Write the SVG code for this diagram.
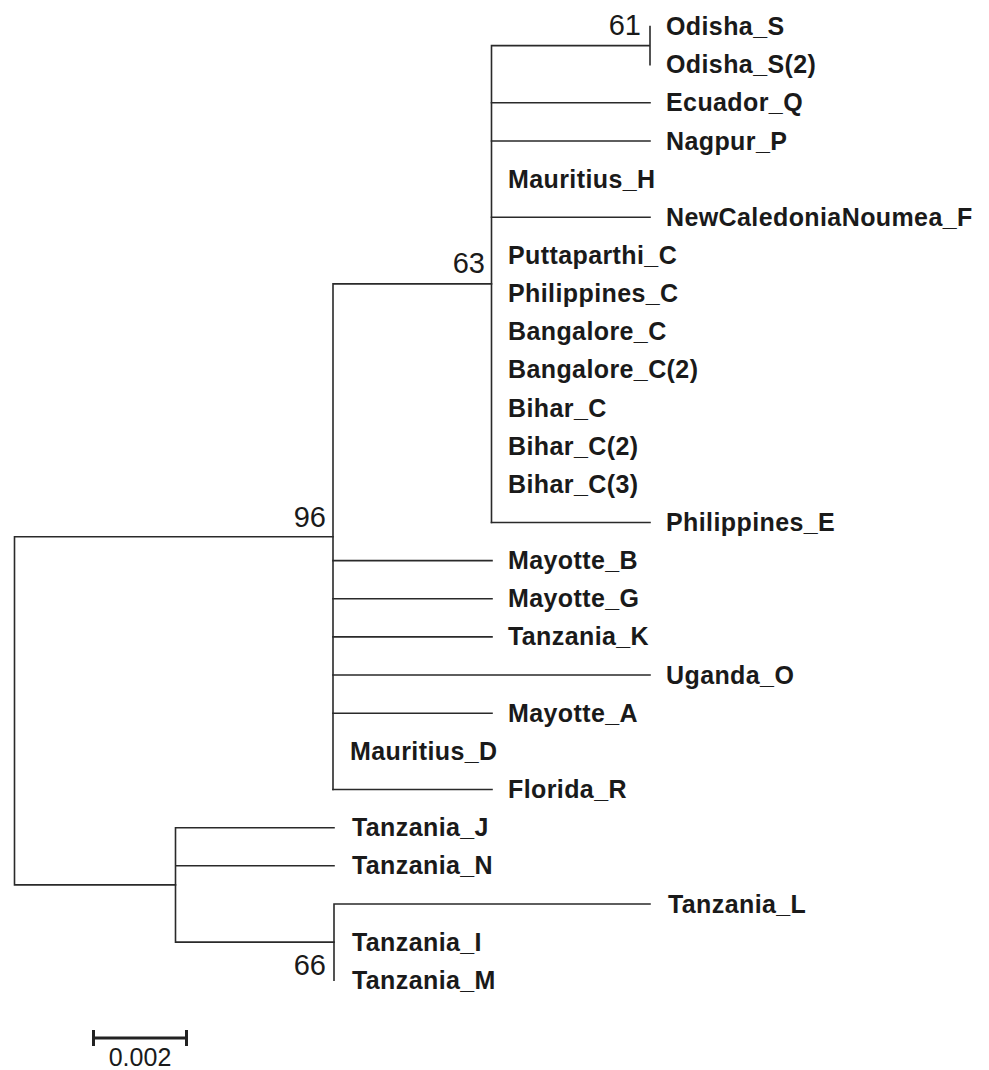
<svg xmlns="http://www.w3.org/2000/svg" width="989" height="1070" viewBox="0 0 989 1070">
<style>
.e{stroke:#2a2a2a;stroke-width:1.6;fill:none;stroke-linecap:square}
.l{font-family:"Liberation Sans",Arial,sans-serif;font-weight:bold;font-size:25px;fill:#1a1a1a;letter-spacing:0.4px}
.b{font-family:"Liberation Sans",Arial,sans-serif;font-size:29px;fill:#1a1a1a;text-anchor:end}
.s{font-family:"Liberation Sans",Arial,sans-serif;font-size:25px;fill:#1a1a1a;text-anchor:middle}
</style>
<rect width="989" height="1070" fill="#fff"/>
<g id="connectors">
<path class="e" d="M14.5,536.7V884.9M14.5,536.7H333M14.5,884.9H175.5"/>
<path class="e" d="M333,283.9V789.5M333,283.9H491.5"/>
<path class="e" d="M491.5,45.6V522.5M491.5,45.6H650M650,26.5V64.7"/>
<path class="e" d="M491.5,102.8H650M491.5,141H650M491.5,217.3H650M491.5,522.5H650"/>
<path class="e" d="M333,560.6H492M333,598.7H492M333,636.9H492M333,675H650M333,713.2H492M333,789.5H492"/>
<path class="e" d="M175.5,827.7V942.1M175.5,827.7H334M175.5,865.8H334M175.5,942.1H334"/>
<path class="e" d="M334,904V980.3M334,904H650"/>
</g>
<g id="n_Odisha_S"><text class="l" x="666" y="35">Odisha_S</text></g>
<g id="n_Odisha_S2"><text class="l" x="666" y="73.2">Odisha_S(2)</text></g>
<g id="n_Ecuador_Q"><text class="l" x="666" y="111.3">Ecuador_Q</text></g>
<g id="n_Nagpur_P"><text class="l" x="666" y="149.5">Nagpur_P</text></g>
<g id="n_Mauritius_H"><text class="l" x="508" y="187.6">Mauritius_H</text></g>
<g id="n_NewCaledoniaNoumea_F"><text class="l" x="666" y="225.8">NewCaledoniaNoumea_F</text></g>
<g id="n_Puttaparthi_C"><text class="l" x="508" y="263.9">Puttaparthi_C</text></g>
<g id="n_Philippines_C"><text class="l" x="508" y="302.1">Philippines_C</text></g>
<g id="n_Bangalore_C"><text class="l" x="508" y="340.2">Bangalore_C</text></g>
<g id="n_Bangalore_C2"><text class="l" x="508" y="378.4">Bangalore_C(2)</text></g>
<g id="n_Bihar_C"><text class="l" x="508" y="416.5">Bihar_C</text></g>
<g id="n_Bihar_C2"><text class="l" x="508" y="454.7">Bihar_C(2)</text></g>
<g id="n_Bihar_C3"><text class="l" x="508" y="492.8">Bihar_C(3)</text></g>
<g id="n_Philippines_E"><text class="l" x="666" y="531">Philippines_E</text></g>
<g id="n_Mayotte_B"><text class="l" x="508" y="569.1">Mayotte_B</text></g>
<g id="n_Mayotte_G"><text class="l" x="508" y="607.3">Mayotte_G</text></g>
<g id="n_Tanzania_K"><text class="l" x="508" y="645.4">Tanzania_K</text></g>
<g id="n_Uganda_O"><text class="l" x="666" y="683.6">Uganda_O</text></g>
<g id="n_Mayotte_A"><text class="l" x="508" y="721.7">Mayotte_A</text></g>
<g id="n_Mauritius_D"><text class="l" x="350" y="759.9">Mauritius_D</text></g>
<g id="n_Florida_R"><text class="l" x="508" y="798">Florida_R</text></g>
<g id="n_Tanzania_J"><text class="l" x="352" y="836.2">Tanzania_J</text></g>
<g id="n_Tanzania_N"><text class="l" x="352" y="874.3">Tanzania_N</text></g>
<g id="n_Tanzania_L"><text class="l" x="668" y="912.5">Tanzania_L</text></g>
<g id="n_Tanzania_I"><text class="l" x="352" y="950.6">Tanzania_I</text></g>
<g id="n_Tanzania_M"><text class="l" x="352" y="988.8">Tanzania_M</text></g>
<g id="bootstrap">
<text class="b" x="641" y="35">61</text>
<text class="b" x="485" y="273">63</text>
<text class="b" x="326" y="527">96</text>
<text class="b" x="326" y="975">66</text>
</g>
<g id="scale">
<path d="M93.5,1038H186.5M93.5,1030V1046M186.5,1030V1046" stroke="#222" stroke-width="3" fill="none"/>
<text class="s" x="140" y="1066">0.002</text>
</g>
</svg>
